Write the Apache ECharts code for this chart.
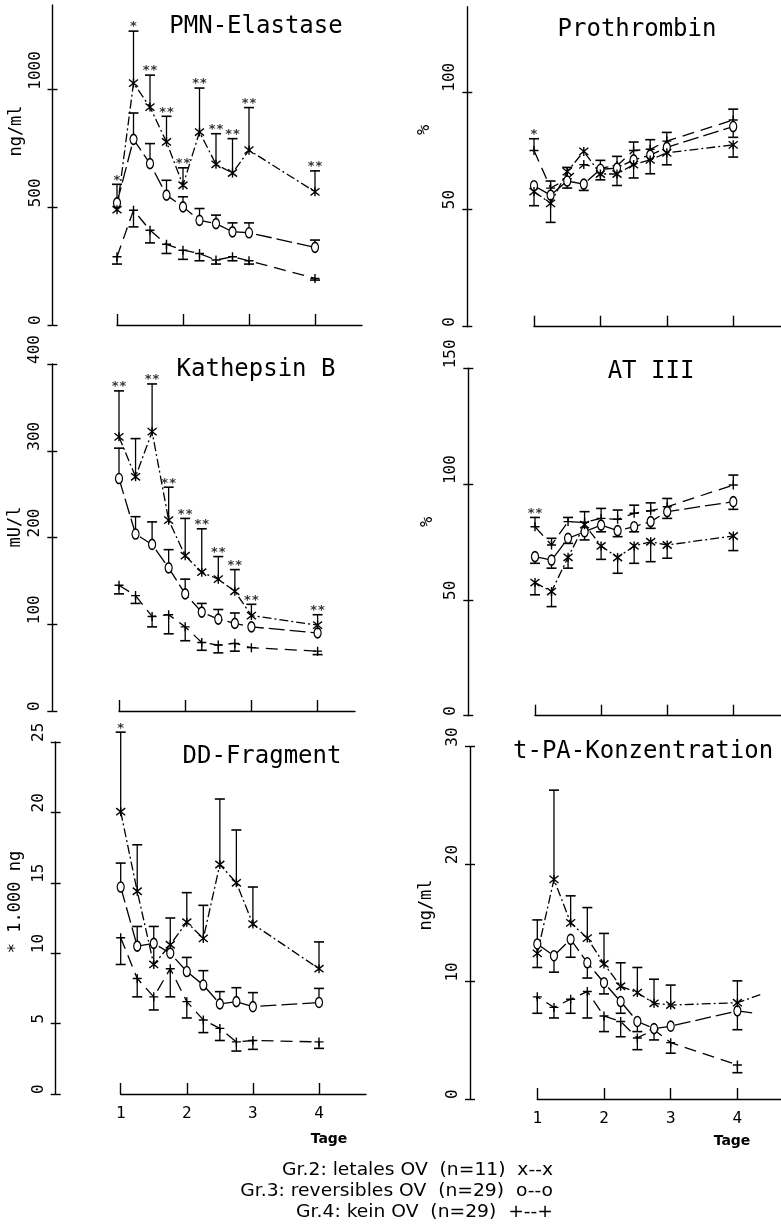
<!DOCTYPE html>
<html><head><meta charset="utf-8">
<script src="https://cdn.jsdelivr.net/npm/echarts@6/dist/echarts.min.js"></script>
<style>html,body{margin:0;padding:0;background:#fff}#c{width:781px;height:1232px}</style>
</head><body><div id="c"></div>
<script>
// ---- time axis (days) ----
const times = [1, 1.25, 1.5, 1.75, 2, 2.25, 2.5, 2.75, 3, 4];
const dayTicks = [1, 2, 3, 4];

// ---- PMN-Elastase (ng/ml) ----
const pmnTicks = [0, 500, 1000];
const pmnGr2 = [490, 1028, 926, 778, 594, 820, 683, 646, 743, 566];
const pmnGr2Err = [598, 1249, 1062, 887, 668, 1007, 813, 792, 924, 655];
const pmnGr3 = [519, 789, 686, 552, 502, 445, 431, 396, 392, 330];
const pmnGr3Err = [null, 901, 771, 615, 545, 495, 467, 434, 434, 361];
const pmnGr4 = [290, 488, 403, 343, 318, 304, 276, 290, 273, 198];
const pmnGr4Err = [259, 417, 349, 304, 279, 273, 259, 273, 259, 191];
const pmnStars = ['*', '*', '**', '**', '**', '**', '**', '**', '**', '**'];

// ---- Prothrombin (%) ----
const proTicks = [0, 50, 100];
const proGr2 = [57.5, 52.5, 66, 74.6, 65, 65, 69, 71, 74, 77.4];
const proGr2Err = [51.5, 44.4, null, null, 62.5, 60.1, 63.3, 65.1, 68.9, 72.2];
const proGr3 = [60, 56, 62, 60.7, 67, 67.5, 71, 73, 76.3, 85.2];
const proGr3Err = [null, null, 59, 58, null, null, null, null, null, 80.6];
const proGr4 = [75, 59, 63, 69, 67.5, 68.5, 75, 75.5, 79, 88];
const proGr4Err = [80, 62, 67.8, null, 70.8, 72.5, 78.6, 79.6, 82.7, 92.6];
const proStars = ['*', '', '', '', '', '', '', '', '', ''];

// ---- Kathepsin B (mU/l) ----
const katTicks = [0, 100, 200, 300, 400];
const katGr2 = [316, 270, 322, 220, 179, 160, 152, 138, 110, 99];
const katGr2Err = [369, 314, 377, 258, 222, 210, 178, 163, 123, 111];
const katGr3 = [268, 204, 192, 165, 135, 114, 106, 101, 97, 90];
const katGr3Err = [303, 224, 218, 186, 152, 124, 117, 113, null, null];
const katGr4 = [145, 133, 109, 111, 97, 79, 76, 78, 73, 69];
const katGr4Err = [135, 124, 97, 89, 81, 70, 67, 69, null, 65];
const katStars = ['**', '', '**', '**', '**', '**', '**', '**', '**', '**'];

// ---- AT III (%) ----
const atTicks = [0, 50, 100, 150];
const atGr2 = [57.5, 53.6, 68.4, 82.5, 73.3, 68.3, 73.3, 75.1, 73.7, 77.6];
const atGr2Err = [52.2, 47.1, 63.7, null, 67.5, 61.5, 65.8, 66.5, 68.0, 71.3];
const atGr3 = [68.7, 67.2, 76.6, 79.4, 82.3, 79.9, 81.6, 83.8, 88.1, 92.4];
const atGr3Err = [65.8, 63.7, 74.4, 75.9, 79.4, 77.3, 79.4, 80.9, 85.2, 89.1];
const atGr4 = [81.6, 73.7, 83.8, 83.5, 85.2, 84.8, 87.4, 88.5, 90.2, 99.6];
const atGr4Err = [85.6, 76.6, 85.6, 88.1, 89.5, 88.8, 90.9, 91.9, 93.8, 103.9];
const atStars = ['**', '', '', '', '', '', '', '', '', ''];

// ---- DD-Fragment (* 1.000 ng) ----
const ddTicks = [0, 5, 10, 15, 20, 25];
const ddGr2 = [20.05, 14.4, 9.2, 10.6, 12.2, 11.05, 16.3, 15.0, 12.07, 8.9];
const ddGr2Err = [25.7, 17.7, 11.9, 12.5, 14.3, 13.4, 20.95, 18.75, 14.7, 10.8];
const ddGr3 = [14.7, 10.5, 10.7, 10.0, 8.7, 7.74, 6.4, 6.56, 6.2, 6.5];
const ddGr3Err = [16.4, 11.9, null, null, 9.7, 8.76, 7.27, 7.55, 7.2, 7.5];
const ddGr4 = [11.1, 8.2, 6.9, 8.9, 6.56, 5.26, 4.66, 3.7, 3.8, 3.7];
const ddGr4Err = [9.2, 6.9, 5.97, 6.9, 5.4, 4.36, 3.8, 3.05, 3.17, 3.24];
const ddStars = ['*', '', '', '', '', '', '', '', '', ''];

// ---- t-PA-Konzentration (ng/ml) ----
const tpaTicks = [0, 10, 20, 30];
const tpaGr2 = [12.4, 18.7, 15.0, 13.7, 11.5, 9.6, 9.06, 8.15, 8.0, 8.2];
const tpaGr2Err = [15.25, 26.3, 17.3, 16.3, 14.1, 11.6, 11.2, 10.2, 9.7, 10.06];
const tpaGr2Tail = [4.35, 8.9];
const tpaGr3 = [13.2, 12.2, 13.6, 11.6, 9.9, 8.3, 6.6, 6.0, 6.2, 7.5];
const tpaGr3Err = [11.2, 10.8, 12.07, 10.3, 8.95, 7.3, 5.74, 5.03, null, 5.9];
const tpaGr3Tail = [4.27, 7.3];
const tpaGr4 = [8.7, 7.8, 8.5, 9.15, 7.07, 6.6, 5.2, 5.9, 4.8, 2.9];
const tpaGr4Err = [7.3, 6.9, 7.3, 6.9, 5.74, 5.3, 4.2, null, 3.9, 2.24];
const tpaGr4Lead = [0.74, 6.9];
const tpaStars = ['', '', '', '', '', '', '', '', '', ''];

// ---- legend text ----
const legendLines = [
  'Gr.2: letales OV  (n=11)  x--x',
  'Gr.3: reversibles OV  (n=29)  o--o',
  'Gr.4: kein OV  (n=29)  +--+'
];

const MONO = '"DejaVu Sans Mono", monospace';
const SANS = '"DejaVu Sans", sans-serif';

const STY = {
  g2: { symbol: 'path://M1,1L9,9M9,1L1,9M5,0L5,10', size: 9, dash: [9, 3, 2, 3] },
  g3: { symbol: 'path://M5,0A5,5 0 1 1 5,10A5,5 0 1 1 5,0Z', size: [7, 10], dash: [16, 5] },
  g4: { symbol: 'path://M0,5L10,5M5,0L5,10', size: 9, dash: [12, 7] }
};

const P = [
  { title: 'PMN-Elastase', tx: 256, ty: 27, tAlign: 'center', yName: 'ng/ml', nx: 17, ny: 131,
    left: 117, top: 5, width: 245, height: 320, axisX: 52.5, ppd: 66, ymax: 1360, yTicks: pmnTicks, xLabels: false,
    g2: [pmnGr2, pmnGr2Err], g3: [pmnGr3, pmnGr3Err], g4: [pmnGr4, pmnGr4Err], stars: pmnStars, starOn: 'g2' },
  { title: 'Prothrombin', tx: 637, ty: 30, tAlign: 'center', yName: '%', nx: 425, ny: 130,
    left: 534, top: 6.7, width: 247, height: 320, axisX: 467.3, ppd: 66.4, ymax: 136.2, yTicks: proTicks, xLabels: false,
    g2: [proGr2, proGr2Err], g3: [proGr3, proGr3Err], g4: [proGr4, proGr4Err], stars: proStars, starOn: 'g4' },
  { title: 'Kathepsin B', tx: 256, ty: 370, tAlign: 'center', yName: 'mU/l', nx: 16, ny: 527,
    left: 119, top: 364, width: 236, height: 347, axisX: 52.3, ppd: 66.2, ymax: 400, yTicks: katTicks, xLabels: false,
    g2: [katGr2, katGr2Err], g3: [katGr3, katGr3Err], g4: [katGr4, katGr4Err], stars: katStars, starOn: 'g2' },
  { title: 'AT III', tx: 651, ty: 372, tAlign: 'center', yName: '%', nx: 428, ny: 522,
    left: 535, top: 368.3, width: 246, height: 347.4, axisX: 468.3, ppd: 66.1, ymax: 150, yTicks: atTicks, xLabels: false,
    g2: [atGr2, atGr2Err], g3: [atGr3, atGr3Err], g4: [atGr4, atGr4Err], stars: atStars, starOn: 'g4' },
  { title: 'DD-Fragment', tx: 262, ty: 757, tAlign: 'center', yName: '* 1.000 ng', nx: 16, ny: 902,
    left: 120.7, top: 742, width: 245.3, height: 352, axisX: 55.7, ppd: 66.1, ymax: 25, yTicks: ddTicks, xLabels: true,
    g2: [ddGr2, ddGr2Err], g3: [ddGr3, ddGr3Err], g4: [ddGr4, ddGr4Err], stars: ddStars, starOn: 'g2' },
  { title: 't-PA-Konzentration', tx: 513, ty: 752, tAlign: 'left', yName: 'ng/ml', nx: 427, ny: 905,
    left: 537.3, top: 746.7, width: 243.7, height: 352.3, axisX: 470, ppd: 66.7, ymax: 30, yTicks: tpaTicks, xLabels: true,
    g2: [tpaGr2, tpaGr2Err], g3: [tpaGr3, tpaGr3Err], g4: [tpaGr4, tpaGr4Err], stars: tpaStars, starOn: 'g2',
    pre: { g4: tpaGr4Lead }, post: { g2: tpaGr2Tail, g3: tpaGr3Tail } }
];

function renderErr(params, api) {
  const t = api.value(0), m = api.value(1), e = api.value(2);
  const p0 = api.coord([t, m]), p1 = api.coord([t, e]);
  const w = 5;
  return { type: 'group', children: [
    { type: 'line', shape: { x1: p0[0], y1: p0[1], x2: p1[0], y2: p1[1] }, style: { stroke: '#000', lineWidth: 1.3 } },
    { type: 'line', shape: { x1: p1[0] - w, y1: p1[1], x2: p1[0] + w, y2: p1[1] }, style: { stroke: '#000', lineWidth: 1.6 } }
  ] };
}

const grid = [], xAxis = [], yAxis = [], series = [], graphic = [];
const axisLS = { color: '#000', width: 1.4 };
const plain = v => String(v);

P.forEach((p, i) => {
  grid.push({ left: p.left, top: p.top, width: p.width, height: p.height, containLabel: false });
  xAxis.push({ gridIndex: i, type: 'value', min: 1, max: 1 + p.width / p.ppd, position: 'bottom',
    axisLine: { show: true, onZero: false, lineStyle: axisLS },
    axisTick: { show: true, inside: true, length: 11, customValues: dayTicks, lineStyle: axisLS },
    axisLabel: { show: p.xLabels, customValues: dayTicks, margin: 12, fontFamily: MONO, fontSize: 16, color: '#000', formatter: plain },
    splitLine: { show: false } });
  const off = p.left - p.axisX;
  yAxis.push({ gridIndex: i, type: 'value', min: 0, max: p.ymax, position: 'left', offset: off,
    axisLine: { show: true, lineStyle: axisLS },
    axisTick: { show: true, length: 5, customValues: p.yTicks, lineStyle: axisLS },
    axisLabel: { show: true, customValues: p.yTicks, rotate: 90, align: 'left', verticalAlign: 'middle', margin: 17,
      fontFamily: MONO, fontSize: 16, color: '#000', formatter: plain },
    splitLine: { show: false } });
  yAxis.push({ gridIndex: i, type: 'value', min: 0, max: p.ymax, position: 'left', offset: off,
    axisLine: { show: false },
    axisTick: { show: true, inside: true, length: 5, customValues: p.yTicks, lineStyle: axisLS },
    axisLabel: { show: false }, splitLine: { show: false } });

  ['g4', 'g3', 'g2'].forEach(g => {
    const vals = p[g][0], errs = p[g][1], st = STY[g];
    const data = times.map((t, k) => [t, vals[k]]);
    if (p.pre && p.pre[g]) data.unshift({ value: p.pre[g], symbol: 'none' });
    if (p.post && p.post[g]) data.push({ value: p.post[g], symbol: 'none' });
    const ed = [];
    times.forEach((t, k) => { if (errs[k] != null) ed.push([t, vals[k], errs[k]]); });
    series.push({ type: 'custom', xAxisIndex: i, yAxisIndex: 2 * i, data: ed, renderItem: renderErr,
      clip: false, z: 2, encode: { x: 0, y: [1, 2] }, silent: true });
    series.push({ type: 'line', xAxisIndex: i, yAxisIndex: 2 * i, data, symbol: st.symbol, symbolSize: st.size,
      symbolKeepAspect: false, showAllSymbol: true, clip: false, z: 3, silent: true,
      lineStyle: { color: '#000', width: 1.3, type: st.dash },
      itemStyle: { color: '#fff', borderColor: '#000', borderWidth: 1.4 } });
  });

  const sv = p[p.starOn][0], se = p[p.starOn][1];
  const sd = [];
  times.forEach((t, k) => { if (p.stars[k]) sd.push({ value: [t, se[k] != null ? se[k] : sv[k]], star: p.stars[k] }); });
  series.push({ type: 'scatter', xAxisIndex: i, yAxisIndex: 2 * i, data: sd, symbolSize: 1, clip: false, z: 4, silent: true,
    itemStyle: { color: 'rgba(0,0,0,0)' },
    label: { show: true, position: 'top', distance: -3, formatter: q => q.data.star,
      fontFamily: MONO, fontSize: 13, fontWeight: 'bold', color: '#000', lineHeight: 13 } });

  graphic.push({ type: 'text', x: p.tx, y: p.ty, silent: true,
    style: { text: p.title, font: '24px ' + MONO, fill: '#000', align: p.tAlign, textAlign: p.tAlign,
      verticalAlign: 'middle', textVerticalAlign: 'middle' } });
  graphic.push({ type: 'text', x: p.nx, y: p.ny, rotation: Math.PI / 2, silent: true,
    style: { text: p.yName, font: '17px ' + MONO, fill: '#000', align: 'center', textAlign: 'center',
      verticalAlign: 'middle', textVerticalAlign: 'middle' } });
});

[[329, 1139], [732, 1141]].forEach(([x, y]) => graphic.push({ type: 'text', x, y, silent: true,
  style: { text: 'Tage', font: 'bold 14px ' + SANS, fill: '#000', align: 'center', textAlign: 'center',
    verticalAlign: 'middle', textVerticalAlign: 'middle' } }));
legendLines.forEach((s, k) => graphic.push({ type: 'text', x: 553, y: 1171 + k * 21, scaleX: 1.1, silent: true,
  style: { text: s, font: '17px ' + SANS, fill: '#000', align: 'right', textAlign: 'right',
    verticalAlign: 'middle', textVerticalAlign: 'middle' } }));

const chart = echarts.init(document.getElementById('c'), null, { renderer: 'canvas' });
chart.setOption({ backgroundColor: '#fff', animation: false, grid, xAxis, yAxis, series, graphic });
</script></body></html>
